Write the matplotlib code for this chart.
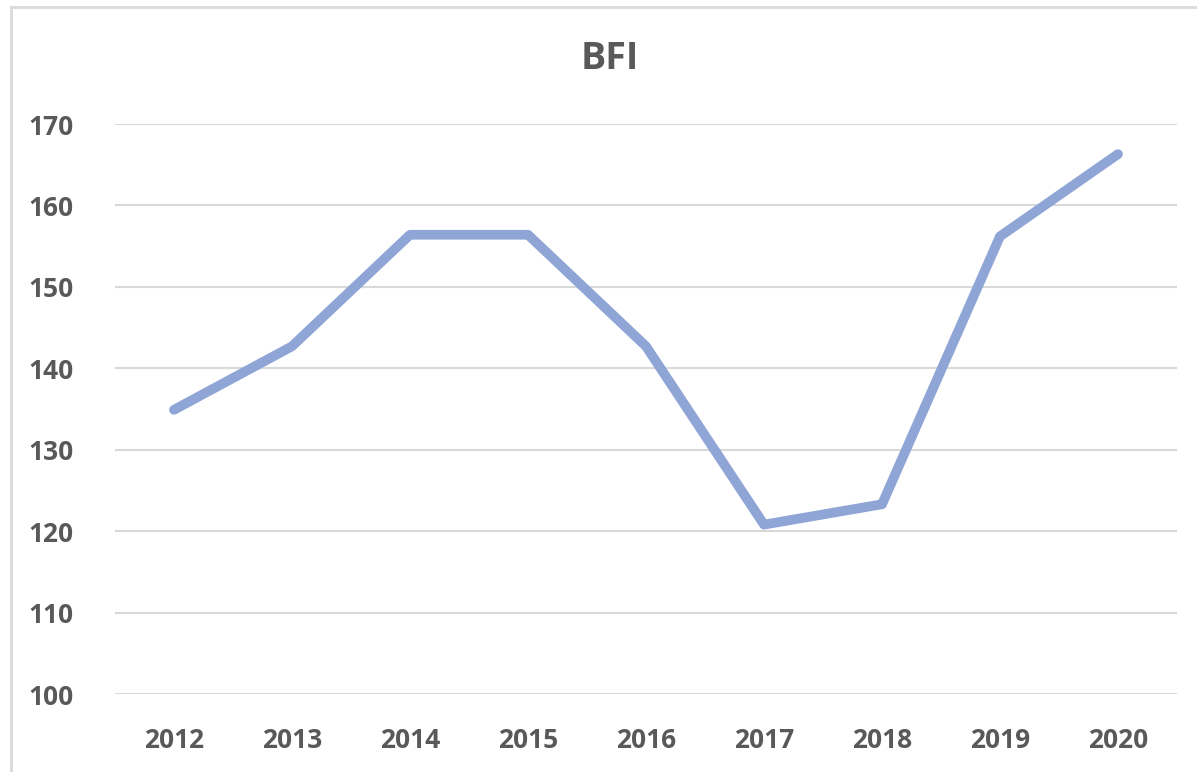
import matplotlib.pyplot as plt
from matplotlib.patches import Rectangle

# datos
anios = ["2012", "2013", "2014", "2015", "2016", "2017", "2018", "2019", "2020"]
bfi = [134.9, 142.7, 156.4, 156.4, 142.7, 120.8, 123.3, 156.2, 166.3]
y_ticks = [100, 110, 120, 130, 140, 150, 160, 170]

gris = "#595959"
azul = "#8FA5D6"

plt.rcParams['font.family'] = ['Open Sans', 'DejaVu Sans']

fig = plt.figure(figsize=(11.97, 7.72), dpi=100)
ax = fig.add_axes([115 / 1197, 1 - 694 / 772, (1177 - 115) / 1197, (694 - 124) / 772])

x = list(range(len(anios)))
ax.plot(x, bfi, color=azul, linewidth=7, solid_capstyle='round',
        solid_joinstyle='round', zorder=3)

ax.set_xlim(-0.5, len(anios) - 0.5)
ax.set_ylim(100, 170)
ax.set_yticks(y_ticks)
ax.set_xticks(x)
ax.set_xticklabels(anios)
ax.grid(axis='y', color='#D9D9D9', linewidth=1.5)
ax.set_axisbelow(True)
for s in ax.spines.values():
    s.set_visible(False)
ax.tick_params(length=0, labelsize=19, labelcolor=gris)
ax.tick_params(axis='y', pad=30)
ax.tick_params(axis='x', pad=24)
for lbl in ax.get_xticklabels() + ax.get_yticklabels():
    lbl.set_fontweight('bold')

fig.text(610 / 1197, 1 - 59 / 772, "BFI", ha='center', va='center',
         fontsize=27, fontweight='bold', color=gris)

# marco exterior
fig.patches.append(Rectangle((11 / 1197, -0.1), 1.2, 1 - 7 / 772 + 0.1,
                             transform=fig.transFigure, fill=False,
                             edgecolor='#D9D9D9', linewidth=2))

fig.savefig("out.png", dpi=100)
